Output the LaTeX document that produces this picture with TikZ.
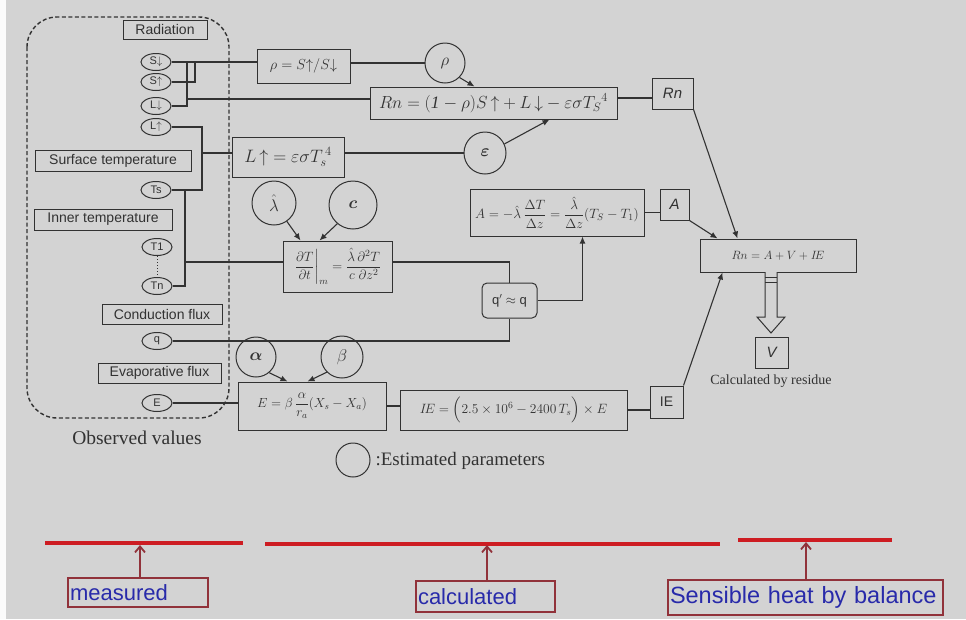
\RequirePackage{fix-cm}
\documentclass[tikz,border=0pt]{standalone}
\usepackage{amsmath}
\usepackage{fontspec}
\setmainfont{Liberation Serif}
\setsansfont{Liberation Sans}
\usetikzlibrary{shapes.geometric,arrows.meta,calc}
\definecolor{bg}{RGB}{211,211,211}
\definecolor{ink}{RGB}{50,50,50}
\definecolor{redline}{RGB}{205,28,34}
\definecolor{tagframe}{RGB}{145,50,58}
\definecolor{tagtext}{RGB}{40,42,170}
\newcommand{\fs}[1]{\fontsize{#1}{#1}\selectfont}
\newcommand{\up}{\mathord{\uparrow}}
\newcommand{\dn}{\mathord{\downarrow}}

\tikzset{
  wire/.style={draw=ink, line width=1.1pt},
  arr/.style={wire, -{Latex[length=7pt,width=6pt]}},
  tagbox/.style={draw=ink, line width=1pt, text=ink, inner sep=0pt, font=\sffamily\fs{14}},
  obs/.style={ellipse, draw=ink, line width=1pt, text=ink, minimum width=30pt,
    minimum height=17pt, inner sep=0pt, font=\sffamily\fs{11}},
  param/.style={circle, draw=ink, line width=1pt, text=ink, inner sep=0pt, font=\fs{17}},
  eqbox/.style={draw=ink, line width=1pt, text=ink, inner sep=0pt},
  resbox/.style={draw=ink, line width=1pt, text=ink, inner sep=0pt, font=\sffamily\itshape\fs{15}},
  note/.style={draw=tagframe, line width=1.5pt, text=tagtext, inner sep=2pt, align=left,
    font=\sffamily\fs{22}},
  redbar/.style={draw=redline, line width=4pt},
  notearr/.style={draw=tagframe, line width=1.8pt, -{Straight Barb[length=6pt,width=10pt]}},
}

\begin{document}
\begin{tikzpicture}[x=1pt,y=-1pt]
% canvas
\fill[white!92!bg] (0,0) rectangle (966,619);
\fill[bg] (6,0) rectangle (966,619);
\useasboundingbox (0,0) rectangle (966,619);

% group of observed values
\draw[ink, line width=1.4pt, dash pattern=on 4pt off 2.5pt, rounded corners=30pt]
  (27,17) rectangle (229,418);
\node[font=\fs{19.5}, text=ink] (obsv) at (137,438) {Observed values};

% category labels
\node[tagbox, minimum width=84pt, minimum height=19pt]  (rad)   at (165,29.5)  {Radiation};
\node[tagbox, minimum width=156pt, minimum height=21pt] (surf)  at (113,160.5) {Surface temperature};
\node[tagbox, minimum width=138pt, minimum height=21pt] (inner) at (103,219.5) {Inner temperature};
\node[tagbox, minimum width=120pt, minimum height=20pt] (cond)  at (162,314)   {Conduction flux};
\node[tagbox, minimum width=123pt, minimum height=20pt] (evap)  at (159.5,373) {Evaporative flux};

% observed quantities
\node[obs] (sd) at (156,62)  {S$\downarrow$};
\node[obs] (su) at (156,82)  {S$\uparrow$};
\node[obs] (ld) at (156,106) {L$\downarrow$};
\node[obs] (lu) at (156,127) {L$\uparrow$};
\node[obs] (ts) at (156,190) {Ts};
\node[obs] (t1) at (157,247) {T1};
\node[obs] (tn) at (157,286) {Tn};
\node[obs] (q)  at (157,341) {q};
\node[obs] (e)  at (157,403) {E};
\draw[ink, line width=1pt, dotted] (t1.south) -- (tn.north);

% equations
\node[eqbox, minimum width=93pt, minimum height=34pt, font=\fs{14.5}] (rhoeq) at (303.5,66)
  {$\rho=S\up/S\dn$};
\node[eqbox, minimum width=247pt, minimum height=32pt, font=\fs{17.5}] (rneq) at (493.5,103)
  {$Rn=(\mathit{1}-\rho)S\,\up+L\,\dn-\varepsilon\sigma {T_S}^{4}$};
\node[eqbox, minimum width=112pt, minimum height=40pt, font=\fs{18}] (luq) at (288,157)
  {$L\,\up=\varepsilon\sigma T_s^{\,4}$};
\node[eqbox, minimum width=109pt, minimum height=51pt, font=\fs{13.5}] (dT) at (337.5,266.5)
  {$\left.\dfrac{\partial T}{\partial t}\right|_{m}=\dfrac{\hat\lambda\,\partial^2T}{c\;\partial z^2}$};
\node[eqbox, minimum width=174pt, minimum height=47pt, font=\fs{13.5}] (Aeq) at (557,212.5)
  {$A=-\hat\lambda\,\dfrac{\Delta T}{\Delta z}=\dfrac{\hat\lambda}{\Delta z}(T_S-T_1)$};
\node[eqbox, minimum width=55pt, minimum height=35pt, rounded corners=5pt,
  font=\sffamily\fs{13}] (qq) at (509.5,300.5) {q$'\approx$ q};
\node[eqbox, minimum width=148pt, minimum height=48pt, font=\fs{13.2}] (Eeq) at (312,406)
  {$E=\beta\,\dfrac{\alpha}{r_a}(X_s-X_a)$};
\node[eqbox, minimum width=227pt, minimum height=40pt, font=\fs{13.5}] (IEeq) at (513.5,410)
  {$I\!E=\Bigl(2.5\times10^{6}-2400\,T_s\Bigr)\times E$};
\node[eqbox, minimum width=156pt, minimum height=33pt, font=\fs{12}] (bal) at (778,255.5)
  {$Rn=A+V+I\!E$};

% resulting terms
\node[resbox, minimum width=41pt, minimum height=31pt] (rn) at (672.5,93.5) {Rn};
\node[resbox, minimum width=29pt, minimum height=31pt] (A)  at (674.5,204.5) {A};
\node[resbox, minimum width=33pt, minimum height=32pt, font=\sffamily\fs{14}] (IE) at (666.5,402) {IE};
\node[resbox, minimum width=33pt, minimum height=31pt] (V)  at (771.5,352.5) {V};
\node[font=\fs{14}, text=ink] (resid) at (771,381) {Calculated by residue};

% estimated parameters
\node[param, minimum size=40pt] (rho)   at (445,63)  {$\rho$};
\node[param, minimum size=42pt] (eps)   at (485,153) {$\boldsymbol{\varepsilon}$};
\node[param, minimum size=44pt] (lam)   at (274,203) {$\hat\lambda$};
\node[param, minimum size=48pt] (cc)    at (353,205) {$\boldsymbol{c}$};
\node[param, minimum size=40pt] (alpha) at (256,357) {$\boldsymbol{\alpha}$};
\node[param, minimum size=42pt] (beta)  at (342,357) {$\beta$};
\node[param, minimum size=34pt] (key)   at (353,460) {};
\node[anchor=west, font=\fs{19}, text=ink] (keytxt) at (372,461) {:Estimated parameters};

% radiation wiring
\coordinate (j1) at (195,62);
\coordinate (j2) at (187,62);
\coordinate (j3) at (187,99);
\draw[wire] (sd.east) -- (sd.east -| rhoeq.west);
\draw[wire] (su.east) -| (j1);
\draw[wire] (ld.east) -| (j2);
\draw[wire] (j3) -- (j3 -| rneq.west);
\draw[wire] (rhoeq.east |- rho.west) -- (rho.west);
\draw[arr] (rho.-45) -- ($(rneq.north west)+(105,0)$);
\draw[arr] (eps.25) -- ($(rneq.south west)+(180,0)$);
\draw[wire] (luq.east |- eps.west) -- (eps.west);
\draw[wire] (rneq.east |- 0,98) -- (rn.west |- 0,98);

% temperature wiring
\coordinate (j4) at (202,153);
\draw[wire] (lu.east) -| (j4) |- (ts.east);
\draw[wire] (j4) -- (j4 -| luq.west);
\coordinate (j5) at (185,262);
\draw[wire] (ts.east) -| (j5) |- (tn.east);
\draw[wire] (j5) -- (j5 -| dT.west);
\draw[arr] (lam.-55) -- ($(dT.north west)+(18,0)$);
\draw[arr] (cc.-130) -- ($(dT.north west)+(37,0)$);
\draw[wire] (dT.east |- j5) -| (qq.north);

% conduction wiring
\draw[wire] (q.east) -| (qq.south);
\draw[arr] (qq.east) -| ($(Aeq.south west)+(113,0)$);
\draw[wire] (Aeq.east) -- (Aeq.east -| A.west);

% evaporation wiring
\draw[wire] (e.east) -- (e.east -| Eeq.west);
\draw[arr] (alpha.-50) -- ($(Eeq.north west)+(50,0)$);
\draw[arr] (beta.-135) -- ($(Eeq.north west)+(70,0)$);
\draw[wire] (Eeq.east) -- (Eeq.east -| IEeq.west);
\draw[wire] (IEeq.east) -- (IEeq.east -| IE.west);

% energy balance
\draw[arr] (rn.south east) -- ($(bal.north west)+(38,0)$);
\draw[arr] (A.south east) -- ($(bal.north west)+(18,0)$);
\draw[arr] (IE.north east) -- ($(bal.south west)+(23,0)$);
\draw[ink, line width=1pt, fill=bg, line join=miter]
  (765,272) -- (765,317) -- (757,317) -- (771,333) -- (785,317) -- (777,317) -- (777,272);
\draw[ink, line width=1pt] (765,277) -- (777,277) (765,282) -- (777,282);

% annotation bars
\coordinate (m1) at (140,545);
\coordinate (c1) at (487,545);
\coordinate (s1) at (806,542);
\draw[redbar] (45,543) -- (243,543);
\draw[redbar] (265,544) -- (720,544);
\draw[redbar] (738,540) -- (892,540);
\node[note, text width=136pt, minimum height=29pt] (mbox) at (138,592.5) {measured};
\node[note, text width=135pt, minimum height=31pt] (cbox) at (485.5,596.5) {calculated};
\node[note, text width=271pt, minimum height=35pt, font=\sffamily\fs{23.5}] (sbox) at (805.5,597.5)
  {Sensible heat by balance};
\draw[notearr] (mbox.north -| m1) -- (m1);
\draw[notearr] (cbox.north -| c1) -- (c1);
\draw[notearr] (sbox.north -| s1) -- (s1);
\end{tikzpicture}
\end{document}
